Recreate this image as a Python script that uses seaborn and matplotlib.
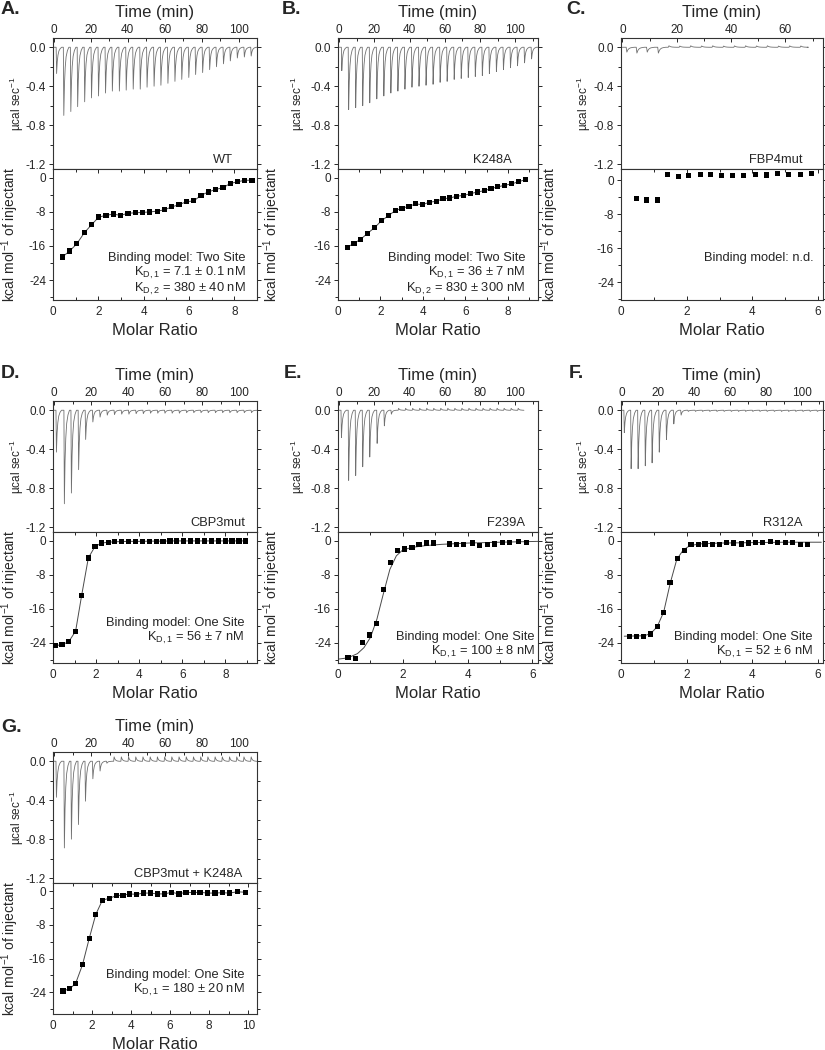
import matplotlib
matplotlib.use("Agg")
import matplotlib.pyplot as plt
import seaborn as sns
import pandas as pd
from matplotlib.ticker import MultipleLocator, FormatStrFormatter

sns.set_style("ticks")
plt.rcParams['font.family'] = ['Liberation Sans', 'DejaVu Sans']
plt.rcParams['mathtext.fontset'] = 'custom'
plt.rcParams['mathtext.rm'] = 'Liberation Sans'
plt.rcParams['mathtext.it'] = 'Liberation Sans:italic'
plt.rcParams['mathtext.default'] = 'regular'
plt.rcParams['axes.unicode_minus'] = False

# ---------------- A. WT
a_times = [1.2, 5.1, 8.9, 12.6, 16.4, 20.1, 23.9, 27.7, 31.4, 35.2, 38.9, 42.7, 46.5, 50.2, 54.0,
           57.7, 61.5, 65.3, 69.0, 72.8, 76.5, 80.3, 84.1, 87.8, 91.6, 95.3, 99.1, 102.9, 106.6]
a_peaks = [-0.27, -0.70, -0.66, -0.61, -0.56, -0.52, -0.50, -0.47, -0.45, -0.45, -0.44, -0.43, -0.43,
           -0.41, -0.40, -0.39, -0.37, -0.35, -0.33, -0.31, -0.28, -0.26, -0.23, -0.20, -0.17, -0.14,
           -0.11, -0.10, -0.09]
a_ratio = [0.41, 0.73, 1.05, 1.38, 1.70, 2.02, 2.34, 2.66, 2.98, 3.31, 3.63, 3.95, 4.27, 4.60,
           4.92, 5.24, 5.56, 5.88, 6.21, 6.53, 6.85, 7.17, 7.50, 7.82, 8.14, 8.46, 8.78]
a_heat = [-18.6, -17.2, -15.5, -12.9, -11.0, -9.2, -8.8, -8.5, -8.8, -8.3, -8.2, -8.1, -8.0, -7.8,
          -7.5, -6.8, -6.3, -5.6, -5.4, -4.1, -3.3, -2.7, -2.3, -1.3, -0.9, -0.55, -0.55]

# ---------------- B. K248A
b_times = [1.2, 5.1, 9.1, 13.1, 17.1, 21.1, 25.1, 29.1, 33.1, 37.1, 41.1, 45.1, 49.1, 53.1,
           57.1, 61.1, 65.1, 69.1, 73.1, 77.1, 81.1, 85.1, 89.1, 93.1, 97.1, 101.1, 105.1, 109.1]
b_peaks = [-0.24, -0.64, -0.62, -0.60, -0.57, -0.53, -0.50, -0.47, -0.45, -0.43, -0.41, -0.40,
           -0.39, -0.38, -0.36, -0.35, -0.33, -0.32, -0.31, -0.30, -0.29, -0.27, -0.25, -0.23,
           -0.21, -0.19, -0.16, -0.12]
b_ratio = [0.43, 0.75, 1.07, 1.40, 1.72, 2.04, 2.37, 2.69, 3.01, 3.34, 3.66, 3.98, 4.30, 4.63,
           4.95, 5.27, 5.60, 5.92, 6.24, 6.57, 6.89, 7.21, 7.53, 7.86, 8.18, 8.50, 8.83]
b_heat = [-16.3, -15.4, -14.4, -13.0, -11.7, -10.1, -8.9, -7.7, -7.1, -6.7, -6.1, -6.3, -5.7,
          -5.5, -4.9, -4.7, -4.3, -4.1, -3.7, -3.3, -3.0, -2.5, -2.1, -1.7, -1.4, -0.9, -0.4]

# ---------------- C. FBP4mut
c_times = [1.4, 5.1, 8.9, 13.0, 16.9, 20.9, 24.9, 28.9, 33.0, 37.0, 41.0, 45.1, 49.1, 53.1,
           57.2, 61.3, 65.4]
c_peaks = [-0.05, -0.06, -0.05, -0.06, 0.015, 0.012, 0.015, 0.013, 0.015, 0.012, 0.014, 0.015,
           0.013, 0.015, 0.012, 0.014, 0.013]
c_ratio = [0.46, 0.78, 1.10, 1.42, 1.75, 2.06, 2.41, 2.72, 3.07, 3.40, 3.74, 4.09, 4.42, 4.76,
           5.11, 5.46, 5.79]
c_heat = [-4.3, -4.7, -4.7, 1.4, 0.9, 1.0, 1.25, 1.25, 1.1, 1.1, 1.0, 1.4, 1.2, 1.5, 1.3, 1.25, 1.5]

# ---------------- D. CBP3mut
d_times = [0.9, 5.2, 9.0, 12.9, 16.7, 20.6, 24.5, 28.4, 32.3, 36.2, 40.1, 44.0, 47.9, 51.8,
           55.7, 59.6, 63.5, 67.4, 71.3, 75.2, 79.1, 83.0, 86.9, 90.8, 94.7, 98.6, 102.5, 106.4]
d_peaks = [-0.43, -0.96, -0.85, -0.61, -0.30, -0.12, -0.07, -0.05, -0.045, -0.04, -0.04, -0.035,
           -0.035, -0.03, -0.03, -0.03, -0.03, -0.03, -0.025, -0.025, -0.025, -0.025, -0.025,
           -0.025, -0.025, -0.025, -0.025, -0.025]
d_ratio = [0.11, 0.42, 0.73, 1.05, 1.33, 1.64, 1.95, 2.26, 2.56, 2.87, 3.19, 3.51, 3.83, 4.15,
           4.47, 4.79, 5.11, 5.43, 5.75, 6.07, 6.39, 6.71, 7.03, 7.35, 7.67, 7.99, 8.31, 8.63, 8.95]
d_heat = [-24.7, -24.5, -23.8, -21.3, -12.9, -4.1, -1.4, -0.6, -0.4, -0.3, -0.25, -0.2, -0.2,
          -0.2, -0.15, -0.15, -0.15, -0.1, -0.1, -0.1, -0.1, -0.1, -0.1, -0.1, -0.1, -0.1, -0.1,
          -0.1, -0.1]

# ---------------- E. F239A
e_times = [1.0, 5.1, 9.1, 13.1, 17.1, 21.3, 25.4, 29.4, 33.5, 37.5, 41.5, 45.5, 49.5, 53.5,
           57.5, 61.5, 65.5, 69.5, 73.5, 77.5, 81.5, 85.5, 89.5, 93.5, 97.5, 101.5]
e_peaks = [-0.28, -0.72, -0.67, -0.58, -0.48, -0.34, -0.16, -0.04, 0.02, 0.02, 0.02, 0.02, 0.02,
           0.02, 0.02, 0.02, 0.02, 0.02, 0.02, 0.02, 0.02, 0.02, 0.02, 0.02, 0.02, 0.02]
e_ratio = [0.31, 0.54, 0.75, 0.98, 1.19, 1.41, 1.62, 1.83, 2.06, 2.28, 2.50, 2.73, 2.95, 3.43,
           3.65, 3.88, 4.14, 4.37, 4.60, 4.84, 5.07, 5.30, 5.56, 5.81]
e_heat = [-27.5, -27.7, -23.9, -22.2, -19.6, -11.6, -5.1, -2.4, -2.0, -1.6, -1.0, -0.6, -0.6,
          -0.8, -0.9, -0.9, -0.6, -1.2, -0.9, -0.8, -0.4, -0.5, -0.2, -0.4]
e_fit_x = [0.0, 0.3, 0.6, 0.8, 1.0, 1.2, 1.4, 1.6, 1.8, 2.0, 2.3, 2.7, 3.2, 4.0, 5.0, 6.2]
e_fit_y = [-27.9, -27.6, -26.6, -25.2, -22.8, -18.5, -12.5, -6.8, -3.6, -2.2, -1.6, -1.2, -0.9,
           -0.6, -0.4, -0.2]

# ---------------- F. R312A
f_times = [0.9, 4.7, 8.6, 12.6, 16.4, 20.4, 24.4, 28.5, 32.6, 36.6, 40.6, 44.6, 48.6, 52.6,
           56.6, 60.6, 64.6, 68.6, 72.6, 76.6, 80.6, 84.6, 88.6, 92.6, 96.6, 100.6, 104.6, 108.6]
f_peaks = [-0.23, -0.60, -0.60, -0.57, -0.54, -0.43, -0.30, -0.14, -0.05, -0.012, -0.012, -0.012,
           -0.012, -0.012, -0.012, -0.012, -0.012, -0.012, -0.012, -0.012, -0.012, -0.012,
           -0.012, -0.012, -0.012, -0.012, -0.012, -0.012]
f_ratio = [0.25, 0.47, 0.68, 0.89, 1.10, 1.29, 1.49, 1.71, 1.93, 2.13, 2.36, 2.56, 2.78, 3.00,
           3.22, 3.43, 3.66, 3.88, 4.10, 4.32, 4.54, 4.77, 5.00, 5.23, 5.47, 5.69]
f_heat = [-22.5, -22.5, -22.5, -22.0, -20.2, -16.9, -9.8, -4.3, -2.4, -0.9, -0.9, -0.8, -1.0,
          -1.0, -0.5, -0.6, -0.8, -0.6, -0.5, -0.5, -0.3, -0.5, -0.4, -0.5, -0.9, -0.9]
f_fit_x = [0.1, 0.7, 0.9, 1.1, 1.3, 1.5, 1.7, 1.9, 2.1, 2.4, 3.0, 4.0, 5.0, 6.1]
f_fit_y = [-22.5, -22.4, -21.9, -20.3, -16.8, -10.0, -4.4, -2.2, -1.2, -0.8, -0.6, -0.5, -0.4, -0.4]

# ---------------- G. CBP3mut + K248A
g_times = [0.9, 5.2, 9.0, 12.8, 16.6, 20.6, 24.5, 28.2, 32.1, 36.0, 39.9, 43.8, 47.7, 51.6,
           55.5, 59.4, 63.3, 67.2, 71.1, 75.0, 78.9, 82.8, 86.7, 90.6, 94.5, 98.4, 102.3, 106.2]
g_peaks = [-0.37, -0.89, -0.80, -0.65, -0.41, -0.18, -0.10, -0.02, 0.045, 0.045, 0.045, 0.045,
           0.045, 0.045, 0.045, 0.045, 0.045, 0.045, 0.045, 0.045, 0.045, 0.045, 0.045, 0.045,
           0.045, 0.045, 0.045, 0.045]
g_ratio = [0.51, 0.86, 1.16, 1.51, 1.85, 2.19, 2.53, 2.91, 3.25, 3.59, 3.93, 4.28, 4.65, 4.99,
           5.35, 5.73, 6.07, 6.45, 6.81, 7.18, 7.53, 7.90, 8.30, 8.67, 9.03, 9.44, 9.88]
g_heat = [-23.7, -23.2, -21.9, -17.5, -11.3, -5.5, -2.1, -1.6, -1.0, -0.9, -0.6, -0.7, -0.4,
          -0.4, -0.6, -0.6, -0.2, -0.6, -0.2, -0.3, -0.2, -0.4, -0.4, -0.3, -0.4, -0.1, -0.2]

# peak shape used to draw each injection in the thermogram
shape_dt = [0.0, 0.25, 0.6, 1.0, 1.5, 2.2, 3.0]
shape_f = [0.0, 1.0, 0.55, 0.3, 0.14, 0.05, 0.0]


def make_trace(times, peaks, end):
    t, y = [0.0], [0.0]
    for ti, pk in zip(times, peaks):
        for dt, f in zip(shape_dt, shape_f):
            t.append(ti + dt)
            y.append(pk * f)
    t.append(end)
    y.append(0.0)
    return pd.DataFrame({'t': t, 'y': y})


W, H = 825, 1050
fig = plt.figure(figsize=(W / 100, H / 100), dpi=100)

panels = [
    dict(letter='A.', lx=1, ly=10, left=53, top=38, w=204, times=a_times, peaks=a_peaks, end=110,
         tlim=(-0.5, 110), tmax=100, ratio=a_ratio, heat=a_heat, fx=a_ratio, fy=a_heat,
         rlim=(0, 9.0), rmax=8, hy=(-28.7, 2.1), name='WT', nx=0.88,
         text=['Binding model: Two Site', 'K$_{D,1}$ = 7.1 ± 0.1 nM', 'K$_{D,2}$ = 380 ± 40 nM'],
         tx=0.946, ty=[0.32, 0.205, 0.085], ylx=(-0.13, -0.155)),
    dict(letter='B.', lx=282, ly=10, left=338, top=38, w=200, times=b_times, peaks=b_peaks, end=113,
         tlim=(-0.7, 113), tmax=100, ratio=b_ratio, heat=b_heat, fx=b_ratio, fy=b_heat,
         rlim=(0, 9.42), rmax=8, hy=(-28.7, 2.1), name='K248A', nx=0.87,
         text=['Binding model: Two Site', 'K$_{D,1}$ = 36 ± 7 nM', 'K$_{D,2}$ = 830 ± 300 nM'],
         tx=0.935, ty=[0.32, 0.205, 0.085], ylx=(-0.155, -0.275)),
    dict(letter='C.', lx=566, ly=10, left=621, top=38, w=202, times=c_times, peaks=c_peaks, end=68,
         tlim=(-0.5, 73.8), tmax=60, ratio=c_ratio, heat=c_heat, fx=None, fy=None,
         rlim=(0, 6.15), rmax=6, hy=(-28.2, 2.6), name='FBP4mut', nx=0.90,
         text=['Binding model: n.d.'], tx=0.955, ty=[0.32], ylx=(-0.14, -0.295)),
    dict(letter='D.', lx=1, ly=373, left=53, top=401, w=204, times=d_times, peaks=d_peaks, end=110,
         tlim=(-0.7, 109.6), tmax=100, ratio=d_ratio, heat=d_heat, fx=d_ratio, fy=d_heat,
         rlim=(0, 9.47), rmax=8, hy=(-28.8, 2.0), name='CBP3mut', nx=0.94,
         text=['Binding model: One Site', 'K$_{D,1}$ = 56 ± 7 nM'], tx=0.94, ty=[0.305, 0.19],
         ylx=(-0.13, -0.155)),
    dict(letter='E.', lx=284, ly=373, left=338, top=401, w=200, times=e_times, peaks=e_peaks, end=105,
         tlim=(-0.7, 113), tmax=100, ratio=e_ratio, heat=e_heat, fx=e_fit_x, fy=e_fit_y,
         rlim=(0, 6.17), rmax=6, hy=(-28.8, 2.0), name='F239A', nx=0.935,
         text=['Binding model: One Site', 'K$_{D,1}$ = 100 ± 8 nM'], tx=0.985, ty=[0.195, 0.085],
         ylx=(-0.155, -0.275)),
    dict(letter='F.', lx=569, ly=373, left=621, top=401, w=202, times=f_times, peaks=f_peaks, end=112,
         tlim=(-0.7, 112), tmax=100, ratio=f_ratio, heat=f_heat, fx=f_fit_x, fy=f_fit_y,
         rlim=(0, 6.15), rmax=6, hy=(-28.8, 2.0), name='R312A', nx=0.90,
         text=['Binding model: One Site', 'K$_{D,1}$ = 52 ± 6 nM'], tx=0.95, ty=[0.195, 0.085],
         ylx=(-0.14, -0.295)),
    dict(letter='G.', lx=1, ly=727, left=53, top=752, w=204, times=g_times, peaks=g_peaks, end=110,
         tlim=(-0.7, 109.6), tmax=100, ratio=g_ratio, heat=g_heat, fx=g_ratio, fy=g_heat,
         rlim=(0, 10.45), rmax=10, hy=(-29.2, 2.0), name='CBP3mut + K248A', nx=0.93,
         text=['Binding model: One Site', 'K$_{D,1}$ = 180 ± 20 nM'], tx=0.94, ty=[0.30, 0.185],
         ylx=(-0.13, -0.155)),
]

TICK = 8.5
for p in panels:
    l, t, w = p['left'], p['top'], p['w']
    ax1 = fig.add_axes([l / W, 1 - (t + 131) / H, w / W, 131 / H])
    ax2 = fig.add_axes([l / W, 1 - (t + 262) / H, w / W, 131 / H])

    # thermogram
    trace = make_trace(p['times'], p['peaks'], p['end'])
    sns.lineplot(data=trace, x='t', y='y', ax=ax1, color='#707070', lw=0.6,
                 sort=False, estimator=None)
    ax1.set_xlim(*p['tlim'])
    ax1.set_xticks([v for v in range(0, p['tmax'] + 1, 20)])
    ax1.xaxis.set_minor_locator(MultipleLocator(10))
    ax1.yaxis.set_major_locator(MultipleLocator(0.4))
    ax1.yaxis.set_minor_locator(MultipleLocator(0.2))
    ax1.yaxis.set_major_formatter(FormatStrFormatter('%.1f'))
    ax1.set_ylim(-1.25, 0.095)
    ax1.xaxis.set_label_position('top')
    ax1.set_xlabel('Time (min)', fontsize=12, labelpad=5)
    ax1.set_ylabel('µcal sec$^{-1}$', fontsize=8.5)
    ax1.yaxis.set_label_coords(p['ylx'][0], 0.5)
    ax1.tick_params(axis='x', which='both', top=True, labeltop=True, bottom=False,
                    labelbottom=False, direction='in', labelsize=TICK, pad=1.5, length=3, width=0.7)
    ax1.tick_params(axis='x', which='minor', length=2)
    ax1.tick_params(axis='y', which='both', left=True, right=True, direction='out',
                    labelsize=TICK, pad=2, length=3, width=0.7)
    ax1.tick_params(axis='y', which='minor', length=2)
    ax1.text(p['nx'], 0.07, p['name'], transform=ax1.transAxes, ha='right', va='center',
             fontsize=9.3)

    # isotherm
    if p['fx'] is not None:
        sns.lineplot(x=p['fx'], y=p['fy'], ax=ax2, color='#4a4a4a', lw=0.7,
                     sort=False, estimator=None)
    sns.scatterplot(x=p['ratio'], y=p['heat'], ax=ax2, marker='s', s=14, color='black',
                    edgecolor='none', linewidth=0, zorder=3)
    ax2.set_xlim(*p['rlim'])
    ax2.set_xticks(list(range(0, p['rmax'] + 1, 2)))
    ax2.xaxis.set_minor_locator(MultipleLocator(1))
    ax2.set_yticks([0, -8, -16, -24])
    ax2.yaxis.set_minor_locator(MultipleLocator(4))
    ax2.set_ylim(*p['hy'])
    ax2.set_xlabel('Molar Ratio', fontsize=12, labelpad=4)
    ax2.set_ylabel('kcal mol$^{-1}$ of injectant', fontsize=10)
    ax2.yaxis.set_label_coords(p['ylx'][1], 0.5)
    ax2.tick_params(axis='x', which='both', top=True, bottom=True, direction='in',
                    labelsize=TICK, pad=4, length=3, width=0.7)
    ax2.tick_params(axis='x', which='minor', length=2)
    ax2.tick_params(axis='y', which='both', left=True, right=True, direction='out',
                    labelsize=TICK, pad=2, length=3, width=0.7)
    ax2.tick_params(axis='y', which='minor', length=2)
    for txt, yy in zip(p['text'], p['ty']):
        ax2.text(p['tx'], yy, txt, transform=ax2.transAxes, ha='right', va='center',
                 fontsize=9.3)

    for ax in (ax1, ax2):
        for s in ax.spines.values():
            s.set_visible(True)
            s.set_linewidth(0.8)
            s.set_color('#333333')

    fig.text(p['lx'] / W, 1 - p['ly'] / H, p['letter'], fontsize=14, fontweight='bold',
             ha='left', va='center')

fig.savefig('out.png', dpi=100)
